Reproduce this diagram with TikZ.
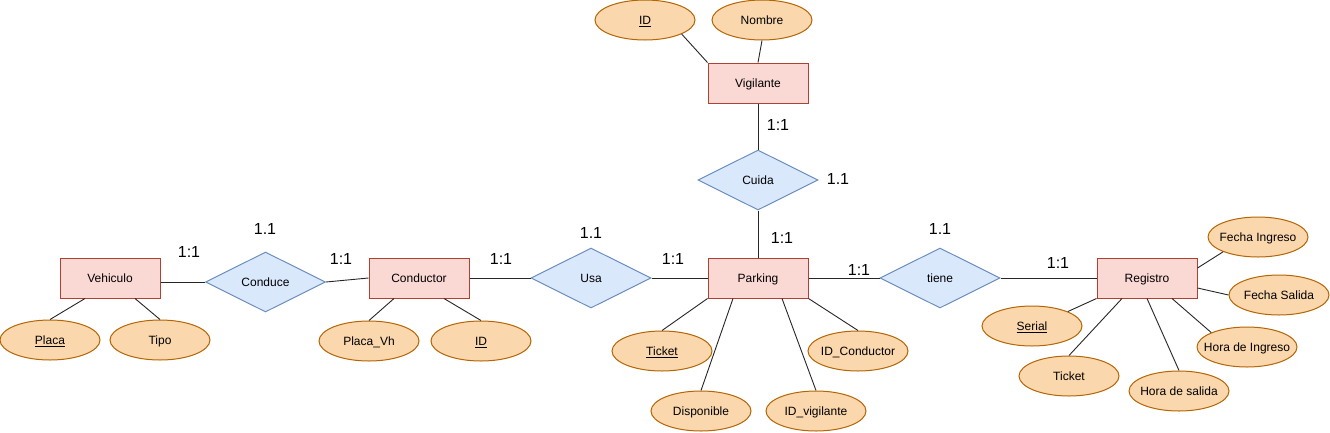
\documentclass[tikz,border=0pt]{standalone}
\usepackage{fontspec}
\setmainfont{Liberation Sans}
\usetikzlibrary{shapes.geometric}
\definecolor{entF}{HTML}{FAD9D5}
\definecolor{entS}{HTML}{AE4132}
\definecolor{relF}{HTML}{DAE8FC}
\definecolor{relS}{HTML}{6C8EBF}
\definecolor{attF}{HTML}{FAD7AC}
\definecolor{attS}{HTML}{B46504}
\newcommand{\mkz}[1]{\makebox[0pt]{#1}}
\tikzset{
  ent/.style={rectangle, draw=entS, fill=entF, line width=1pt, minimum width=100pt, minimum height=40pt, inner sep=0pt, font=\fontsize{12}{14}\selectfont, text height=8.6pt, text depth=0pt},
  rel/.style={diamond, draw=relS, fill=relF, line width=1pt, minimum width=120pt, minimum height=60pt, aspect=2, inner sep=0pt, font=\fontsize{12}{14}\selectfont, text height=8.6pt, text depth=0pt},
  att/.style={ellipse, draw=attS, fill=attF, line width=1pt, minimum width=100pt, minimum height=40pt, inner sep=0pt, font=\fontsize{12}{14}\selectfont, text height=8.6pt, text depth=0pt},
  card/.style={inner sep=0pt, font=\fontsize{16}{19}\selectfont},
  conn/.style={draw=black!85, line width=0.9pt}
}
\begin{document}
\begin{tikzpicture}[x=1pt,y=-1pt]
\useasboundingbox (0,0) rectangle (1330,432);
% entities
\node[ent] (vig) at (758,83) {Vigilante};
\node[ent] (veh) at (110,278) {Vehiculo};
\node[ent] (cond) at (419,278) {Conductor};
\node[ent] (park) at (758,278) {Parking};
\node[ent] (reg) at (1147,278) {Registro};
% relationships
\node[rel] (cuida) at (758,180) {Cuida};
\node[rel] (conduce) at (265.5,282) {Conduce};
\node[rel] (usa) at (591,278) {Usa};
\node[rel] (tiene) at (940,278) {tiene};
% attributes
\node[att] (idv) at (645,20) {\mkz{\underline{ID}}};
\node[att] (nomv) at (762,20) {\mkz{Nombre}};
\node[att] (placa) at (50,340) {\mkz{\underline{Placa}}};
\node[att] (tipo) at (160,340) {\mkz{Tipo}};
\node[att] (placavh) at (369,341) {\mkz{Placa\_Vh}};
\node[att] (idc) at (481,341) {\mkz{\underline{ID}}};
\node[att] (ticketp) at (662,351) {\mkz{\underline{Ticket}}};
\node[att] (idcond) at (858,351) {\mkz{ID\_Conductor}};
\node[att] (disp) at (701,411) {\mkz{Disponible}};
\node[att] (idvig) at (816,411) {\mkz{ID\_vigilante}};
\node[att] (serial) at (1032,326) {\mkz{\underline{Serial}}};
\node[att] (ticketr) at (1069,376) {\mkz{Ticket}};
\node[att] (horas) at (1179,391) {\mkz{Hora de salida}};
\node[att] (horai) at (1247,347) {\mkz{Hora de Ingreso}};
\node[att] (fechas) at (1279,295) {\mkz{Fecha Salida}};
\node[att] (fechai) at (1258,237) {\mkz{Fecha Ingreso}};
% connectors
\draw[conn] (vig.north west) -- (idv.-21);
\draw[conn] (vig.north) -- (nomv.south);
\draw[conn] (vig) -- (cuida);
\draw[conn] (cuida) -- (park);
\draw[conn] ([xshift=-25pt]veh.south) -- (placa.north);
\draw[conn] ([xshift=25pt]veh.south) -- (tipo.north);
\draw[conn] ([yshift=-4pt]veh.east) -- (conduce.west);
\draw[conn] (conduce.east) -- (cond.west);
\draw[conn] ([xshift=-25pt]cond.south) -- (placavh.north);
\draw[conn] ([xshift=25pt]cond.south) -- (idc.north);
\draw[conn] (cond.east) -- (usa.west);
\draw[conn] (usa.east) -- (park.west);
\draw[conn] (park.east) -- (tiene.west);
\draw[conn] (tiene.east) -- (reg.west);
\draw[conn] (park.south west) -- (ticketp.north);
\draw[conn] ([xshift=-25pt]park.south) -- (disp.north);
\draw[conn] ([xshift=24pt]park.south) -- (idvig.north);
\draw[conn] (park.south east) -- (idcond.north);
\draw[conn] (reg.south west) -- (serial.22);
\draw[conn] ([xshift=-25pt]reg.south) -- (ticketr.north);
\draw[conn] (reg.south) -- (horas.north);
\draw[conn] ([xshift=25pt]reg.south) -- (horai.158);
\draw[conn] ([yshift=-10pt]reg.east) -- (fechas.west);
\draw[conn] ([yshift=10pt]reg.east) -- (fechai.-157);
% cardinalities
\node[card] (c1) at (778,125) {1:1};
\node[card] (c2) at (838,179) {1.1};
\node[card] (c3) at (782,238) {1:1};
\node[card] (c4) at (265,229) {1.1};
\node[card] (c5) at (189,252) {1:1};
\node[card] (c6) at (341,259) {1:1};
\node[card] (c7) at (501,259) {1:1};
\node[card] (c8) at (591,233) {1.1};
\node[card] (c9) at (673,259) {1:1};
\node[card] (c10) at (859,270) {1:1};
\node[card] (c11) at (940,229) {1.1};
\node[card] (c12) at (1058,263) {1:1};
\end{tikzpicture}
\end{document}
